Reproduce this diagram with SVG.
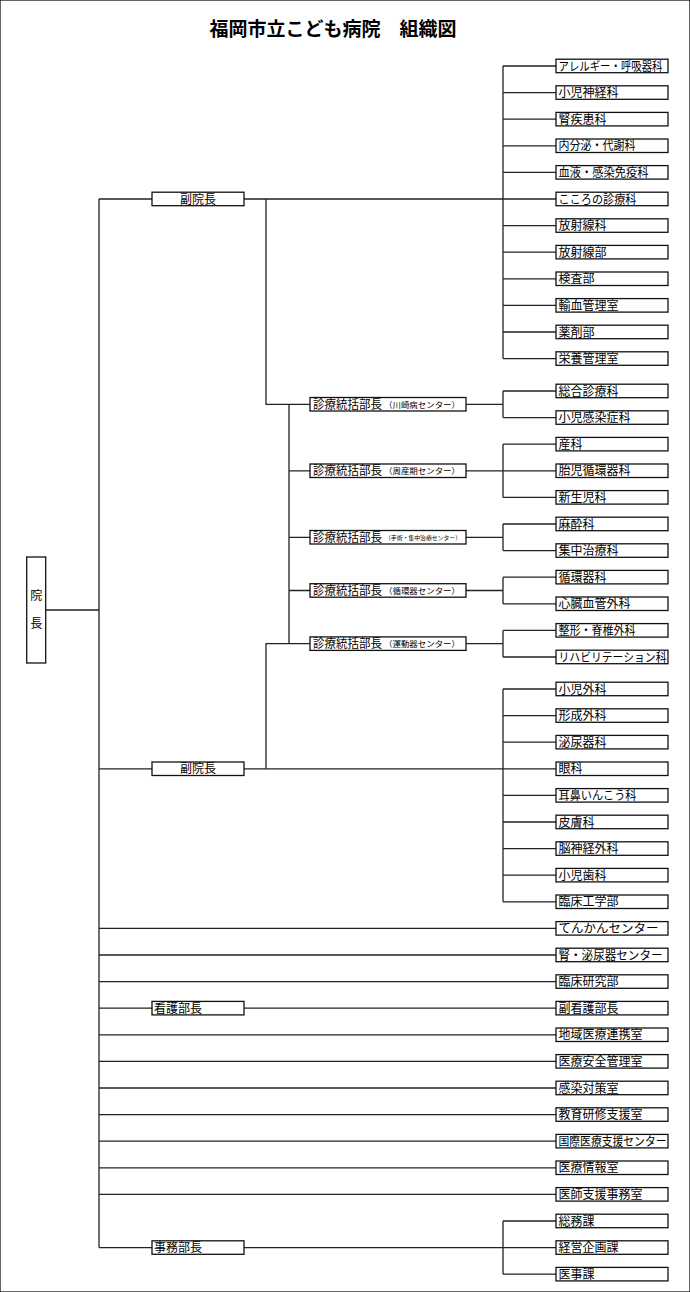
<svg xmlns="http://www.w3.org/2000/svg" width="690" height="1292" viewBox="0 0 690 1292">
<style>
rect{fill:#fff;stroke:#111;stroke-width:1.3}
text{font-family:"Noto Sans CJK JP","Liberation Sans",sans-serif;font-size:12px;fill:#000}
.t{font-size:19px;font-weight:bold}
.s{font-size:8px}
.xs{font-size:6px}
#connectors path{fill:none;stroke:#222;stroke-width:1.3}
</style>
<rect width="690" height="1292" fill="#fff" stroke="none"/>
<text class="t" x="333" y="36" text-anchor="middle">福岡市立こども病院　組織図</text>
<g id="connectors">
<path d="M46 610H99M99 199V1247.6"/>
<path d="M99 199H152M244 199H556M503 66V358.6M503 66H556M503 92.6H556M503 119.2H556M503 145.8H556M503 172.4H556M503 225.6H556M503 252.2H556M503 278.8H556M503 305.4H556M503 332H556M503 358.6H556"/>
<path d="M266 199V404.3H310M289 404.3V643.7M289 470.8H310M289 537.3H310M289 590.5H310M266 768.8V643.7H310"/>
<path d="M466 404.3H503M503 391V417.6M503 391H556M503 417.6H556"/>
<path d="M466 470.8H556M503 444.2V497.4M503 444.2H556M503 497.4H556"/>
<path d="M466 537.3H503M503 524V550.6M503 524H556M503 550.6H556"/>
<path d="M466 590.5H503M503 577.2V603.8M503 577.2H556M503 603.8H556"/>
<path d="M466 643.7H503M503 630.4V657M503 630.4H556M503 657H556"/>
<path d="M99 768.8H152M244 768.8H556M503 689V901.8M503 689H556M503 715.6H556M503 742.2H556M503 795.4H556M503 822H556M503 848.6H556M503 875.2H556M503 901.8H556"/>
<path d="M99 928.4H556M99 955H556M99 981.6H556M99 1008.2H152M244 1008.2H556M99 1034.8H556M99 1061.4H556M99 1088H556M99 1114.6H556M99 1141.2H556M99 1167.8H556M99 1194.4H556"/>
<path d="M99 1247.6H152M244 1247.6H556M503 1221V1274.2M503 1221H556M503 1274.2H556"/>
</g>
<g id="director"><rect x="26.7" y="557" width="19" height="106"/><text x="36.2" y="600" text-anchor="middle">院</text><text x="36.2" y="628" text-anchor="middle">長</text></g>
<g id="vice1"><rect x="152" y="192.2" width="92" height="13.5"/><text x="198" y="203.5" text-anchor="middle">副院長</text></g>
<g id="vice2"><rect x="152" y="762" width="92" height="13.5"/><text x="198" y="773.3" text-anchor="middle">副院長</text></g>
<g id="nursing"><rect x="152" y="1001.4" width="92" height="13.5"/><text x="154" y="1012.7">看護部長</text></g>
<g id="admin"><rect x="152" y="1240.8" width="92" height="13.5"/><text x="154" y="1252.1">事務部長</text></g>
<g id="c1"><rect x="310" y="397.5" width="156" height="13.5"/><text x="313" y="408.8" textLength="69" lengthAdjust="spacingAndGlyphs">診療統括部長</text><text class="s" x="384" y="407.6" textLength="76" lengthAdjust="spacingAndGlyphs">（川崎病センター）</text></g>
<g id="c2"><rect x="310" y="464" width="156" height="13.5"/><text x="313" y="475.3" textLength="69" lengthAdjust="spacingAndGlyphs">診療統括部長</text><text class="s" x="384" y="474.1" textLength="76" lengthAdjust="spacingAndGlyphs">（周産期センター）</text></g>
<g id="c3"><rect x="310" y="530.5" width="156" height="13.5"/><text x="313" y="541.8" textLength="69" lengthAdjust="spacingAndGlyphs">診療統括部長</text><text class="xs" x="385" y="539.8" textLength="76" lengthAdjust="spacingAndGlyphs">（手術・集中治療センター）</text></g>
<g id="c4"><rect x="310" y="583.7" width="156" height="13.5"/><text x="313" y="595" textLength="69" lengthAdjust="spacingAndGlyphs">診療統括部長</text><text class="s" x="384" y="593.8" textLength="76" lengthAdjust="spacingAndGlyphs">（循環器センター）</text></g>
<g id="c5"><rect x="310" y="636.9" width="156" height="13.5"/><text x="313" y="648.2" textLength="69" lengthAdjust="spacingAndGlyphs">診療統括部長</text><text class="s" x="384" y="647" textLength="76" lengthAdjust="spacingAndGlyphs">（運動器センター）</text></g>
<g id="r1"><rect x="556" y="59.2" width="112" height="13.5"/><text x="558.5" y="70.5" textLength="104" lengthAdjust="spacingAndGlyphs">アレルギー・呼吸器科</text></g>
<g id="r2"><rect x="556" y="85.8" width="112" height="13.5"/><text x="558.5" y="97.1">小児神経科</text></g>
<g id="r3"><rect x="556" y="112.4" width="112" height="13.5"/><text x="558.5" y="123.7">腎疾患科</text></g>
<g id="r4"><rect x="556" y="139" width="112" height="13.5"/><text x="558.5" y="150.3" textLength="77" lengthAdjust="spacingAndGlyphs">内分泌・代謝科</text></g>
<g id="r5"><rect x="556" y="165.6" width="112" height="13.5"/><text x="558.5" y="176.9" textLength="90" lengthAdjust="spacingAndGlyphs">血液・感染免疫科</text></g>
<g id="r6"><rect x="556" y="192.2" width="112" height="13.5"/><text x="558.5" y="203.5" textLength="78" lengthAdjust="spacingAndGlyphs">こころの診療科</text></g>
<g id="r7"><rect x="556" y="218.8" width="112" height="13.5"/><text x="558.5" y="230.1">放射線科</text></g>
<g id="r8"><rect x="556" y="245.4" width="112" height="13.5"/><text x="558.5" y="256.7">放射線部</text></g>
<g id="r9"><rect x="556" y="272" width="112" height="13.5"/><text x="558.5" y="283.3">検査部</text></g>
<g id="r10"><rect x="556" y="298.6" width="112" height="13.5"/><text x="558.5" y="309.9">輸血管理室</text></g>
<g id="r11"><rect x="556" y="325.2" width="112" height="13.5"/><text x="558.5" y="336.5">薬剤部</text></g>
<g id="r12"><rect x="556" y="351.8" width="112" height="13.5"/><text x="558.5" y="363.1">栄養管理室</text></g>
<g id="r13"><rect x="556" y="384.2" width="112" height="13.5"/><text x="558.5" y="395.5">総合診療科</text></g>
<g id="r14"><rect x="556" y="410.8" width="112" height="13.5"/><text x="558.5" y="422.1">小児感染症科</text></g>
<g id="r15"><rect x="556" y="437.4" width="112" height="13.5"/><text x="558.5" y="448.7">産科</text></g>
<g id="r16"><rect x="556" y="464" width="112" height="13.5"/><text x="558.5" y="475.3">胎児循環器科</text></g>
<g id="r17"><rect x="556" y="490.6" width="112" height="13.5"/><text x="558.5" y="501.9">新生児科</text></g>
<g id="r18"><rect x="556" y="517.2" width="112" height="13.5"/><text x="558.5" y="528.5">麻酔科</text></g>
<g id="r19"><rect x="556" y="543.8" width="112" height="13.5"/><text x="558.5" y="555.1">集中治療科</text></g>
<g id="r20"><rect x="556" y="570.4" width="112" height="13.5"/><text x="558.5" y="581.7">循環器科</text></g>
<g id="r21"><rect x="556" y="597" width="112" height="13.5"/><text x="558.5" y="608.3">心臓血管外科</text></g>
<g id="r22"><rect x="556" y="623.6" width="112" height="13.5"/><text x="558.5" y="634.9" textLength="77" lengthAdjust="spacingAndGlyphs">整形・脊椎外科</text></g>
<g id="r23"><rect x="556" y="650.2" width="112" height="13.5"/><text x="558.5" y="661.5" textLength="108" lengthAdjust="spacingAndGlyphs">リハビリテーション科</text></g>
<g id="r24"><rect x="556" y="682.2" width="112" height="13.5"/><text x="558.5" y="693.5">小児外科</text></g>
<g id="r25"><rect x="556" y="708.8" width="112" height="13.5"/><text x="558.5" y="720.1">形成外科</text></g>
<g id="r26"><rect x="556" y="735.4" width="112" height="13.5"/><text x="558.5" y="746.7">泌尿器科</text></g>
<g id="r27"><rect x="556" y="762" width="112" height="13.5"/><text x="558.5" y="773.3">眼科</text></g>
<g id="r28"><rect x="556" y="788.6" width="112" height="13.5"/><text x="558.5" y="799.9" textLength="78" lengthAdjust="spacingAndGlyphs">耳鼻いんこう科</text></g>
<g id="r29"><rect x="556" y="815.2" width="112" height="13.5"/><text x="558.5" y="826.5">皮膚科</text></g>
<g id="r30"><rect x="556" y="841.8" width="112" height="13.5"/><text x="558.5" y="853.1">脳神経外科</text></g>
<g id="r31"><rect x="556" y="868.4" width="112" height="13.5"/><text x="558.5" y="879.7">小児歯科</text></g>
<g id="r32"><rect x="556" y="895" width="112" height="13.5"/><text x="558.5" y="906.3">臨床工学部</text></g>
<g id="r33"><rect x="556" y="921.6" width="112" height="13.5"/><text x="558.5" y="932.9" textLength="100" lengthAdjust="spacingAndGlyphs">てんかんセンター</text></g>
<g id="r34"><rect x="556" y="948.2" width="112" height="13.5"/><text x="558.5" y="959.5" textLength="104" lengthAdjust="spacingAndGlyphs">腎・泌尿器センター</text></g>
<g id="r35"><rect x="556" y="974.8" width="112" height="13.5"/><text x="558.5" y="986.1">臨床研究部</text></g>
<g id="r36"><rect x="556" y="1001.4" width="112" height="13.5"/><text x="558.5" y="1012.7">副看護部長</text></g>
<g id="r37"><rect x="556" y="1028" width="112" height="13.5"/><text x="558.5" y="1039.3">地域医療連携室</text></g>
<g id="r38"><rect x="556" y="1054.6" width="112" height="13.5"/><text x="558.5" y="1065.9">医療安全管理室</text></g>
<g id="r39"><rect x="556" y="1081.2" width="112" height="13.5"/><text x="558.5" y="1092.5">感染対策室</text></g>
<g id="r40"><rect x="556" y="1107.8" width="112" height="13.5"/><text x="558.5" y="1119.1">教育研修支援室</text></g>
<g id="r41"><rect x="556" y="1134.4" width="112" height="13.5"/><text x="558.5" y="1145.7" textLength="108" lengthAdjust="spacingAndGlyphs">国際医療支援センター</text></g>
<g id="r42"><rect x="556" y="1161" width="112" height="13.5"/><text x="558.5" y="1172.3">医療情報室</text></g>
<g id="r43"><rect x="556" y="1187.6" width="112" height="13.5"/><text x="558.5" y="1198.9">医師支援事務室</text></g>
<g id="r44"><rect x="556" y="1214.2" width="112" height="13.5"/><text x="558.5" y="1225.5">総務課</text></g>
<g id="r45"><rect x="556" y="1240.8" width="112" height="13.5"/><text x="558.5" y="1252.1">経営企画課</text></g>
<g id="r46"><rect x="556" y="1267.4" width="112" height="13.5"/><text x="558.5" y="1278.7">医事課</text></g>
</svg>
